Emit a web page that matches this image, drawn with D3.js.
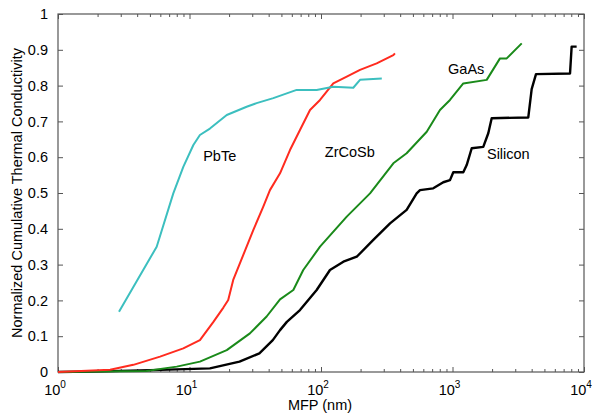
<!DOCTYPE html>
<html>
<head>
<meta charset="utf-8">
<script src="https://d3js.org/d3.v7.min.js"></script>
<style>
  body { margin: 0; background: #fff; }
  text { font-family: "Liberation Sans", Arial, Helvetica, sans-serif; fill: #000; }
</style>
</head>
<body>
<div id="chart"></div>
<script>
// data: [MFP (nm), normalized cumulative k]
var silicon = [[1,0],[1.75,0.001],[6,0.006],[14.3,0.01],[24,0.029],[34,0.052],[43,0.089],[48.8,0.117],
  [55,0.14],[69.2,0.173],[92.7,0.229],[117,0.285],[148,0.308],[187,0.322],[250,0.369],[335,0.415],
  [448,0.453],[534,0.499],[566,0.508],[714,0.513],[851,0.53],[957,0.536],[1014,0.558],[1208,0.558],
  [1282,0.578],[1400,0.625],[1714,0.629],[1871,0.667],[1986,0.709],[3770,0.711],[4000,0.79],
  [4315,0.832],[7830,0.834],[8055,0.909],[8790,0.909]];
var gaas = [[1,0],[4.7,0.003],[8,0.015],[12,0.029],[19.2,0.061],[28.8,0.108],[38.6,0.155],[48.8,0.203],
  [61.6,0.229],[73.3,0.285],[98.3,0.35],[157,0.434],[236,0.499],[355,0.583],[448,0.611],[637,0.671],
  [803,0.732],[957,0.76],[1208,0.806],[1820,0.816],[2297,0.876],[2584,0.876],[3360,0.918]];
var zrcosb = [[1,0],[2.49,0.006],[3.74,0.02],[5.97,0.043],[8.97,0.066],[12,0.089],[15.2,0.14],
  [18.1,0.18],[19.7,0.201],[21.5,0.257],[24.2,0.304],[30.6,0.397],[36.4,0.462],[40.9,0.508],[48.8,0.555],
  [58.1,0.62],[69.2,0.676],[82.5,0.732],[98.3,0.76],[124,0.806],[157,0.825],[198,0.844],
  [265,0.862],[355,0.885],[365,0.89]];
var pbte = [[2.91,0.168],[5.63,0.35],[7.53,0.499],[8.97,0.573],[10.7,0.634],[12,0.662],[14.3,0.68],
  [19.2,0.718],[27.2,0.741],[32.4,0.751],[43.4,0.765],[65.3,0.788],[92.7,0.788],[124,0.797],
  [176,0.794],[198,0.816],[290,0.82]];

var series = [
  {name: "Silicon", data: silicon, color: "#000000", width: 2.4},
  {name: "GaAs", data: gaas, color: "#1a8a1a", width: 2},
  {name: "ZrCoSb", data: zrcosb, color: "#ff2b1f", width: 2},
  {name: "PbTe", data: pbte, color: "#3cbfbf", width: 2}
];
var xMajor = [1, 10, 100, 1000, 10000];
var yTicks = [0, 0.1, 0.2, 0.3, 0.4, 0.5, 0.6, 0.7, 0.8, 0.9, 1];

var W = 594, H = 415;
var box = {left: 58, right: 584, top: 14, bottom: 372};

var svg = d3.select("#chart").append("svg").attr("width", W).attr("height", H);

var x = d3.scaleLog().domain([1, 1e4]).range([box.left, box.right]);
var y = d3.scaleLinear().domain([0, 1]).range([box.bottom, box.top]);

var xMinor = [];
xMajor.slice(0, -1).forEach(function(d) { for (var k = 2; k < 10; k++) xMinor.push(d * k); });

function styleAxis(g) {
  g.select(".domain").remove();
  g.selectAll(".tick line").attr("stroke", "#555");
}

// bottom / top axes
svg.append("g").attr("transform", "translate(0," + box.bottom + ")")
  .call(d3.axisBottom(x).tickValues(xMajor).tickSize(-5).tickFormat("")).call(styleAxis);
svg.append("g").attr("transform", "translate(0," + box.bottom + ")")
  .call(d3.axisBottom(x).tickValues(xMinor).tickSize(-3).tickFormat("")).call(styleAxis);
svg.append("g").attr("transform", "translate(0," + box.top + ")")
  .call(d3.axisTop(x).tickValues(xMajor).tickSize(-5).tickFormat("")).call(styleAxis);
svg.append("g").attr("transform", "translate(0," + box.top + ")")
  .call(d3.axisTop(x).tickValues(xMinor).tickSize(-3).tickFormat("")).call(styleAxis);

// left / right axes
var yl = svg.append("g").attr("transform", "translate(" + box.left + ",0)")
  .call(d3.axisLeft(y).tickValues(yTicks).tickSize(-5).tickPadding(10)
    .tickFormat(function(d) { return d === 0 || d === 1 ? d3.format("d")(d) : d3.format(".1f")(d); }));
yl.select(".domain").remove();
yl.selectAll(".tick line").attr("stroke", "#555");
yl.selectAll(".tick text").style("font-size", "14.5px").attr("fill", "#000");
svg.append("g").attr("transform", "translate(" + box.right + ",0)")
  .call(d3.axisRight(y).tickValues(yTicks).tickSize(-5).tickFormat("")).call(styleAxis);

// frame
svg.append("rect").attr("x", box.left).attr("y", box.top)
  .attr("width", box.right - box.left).attr("height", box.bottom - box.top)
  .attr("fill", "none").attr("stroke", "#555").attr("stroke-width", 1.2);

// x tick labels 10^n
xMajor.forEach(function(d) {
  var t = svg.append("text").attr("x", x(d) - 3).attr("y", box.bottom + 23)
    .attr("text-anchor", "middle").style("font-size", "14.5px");
  t.append("tspan").text("10");
  t.append("tspan").attr("dy", -7).style("font-size", "10px").text(Math.round(Math.log10(d)));
});

// axis titles
svg.append("text").attr("x", (box.left + box.right) / 2 - 1).attr("y", 410)
  .attr("text-anchor", "middle").style("font-size", "14.5px").text("MFP (nm)");
svg.append("text").attr("transform", "translate(22," + ((box.top + box.bottom) / 2) + ") rotate(-90)")
  .attr("text-anchor", "middle").style("font-size", "14.5px")
  .text("Normalized Cumulative Thermal Conductivity");

// curves
var line = d3.line().x(function(d) { return x(d[0]); }).y(function(d) { return y(d[1]); });
svg.selectAll("path.curve").data(series).enter().append("path")
  .attr("class", "curve")
  .attr("d", function(s) { return line(s.data); })
  .attr("fill", "none")
  .attr("stroke", function(s) { return s.color; })
  .attr("stroke-width", function(s) { return s.width; })
  .attr("stroke-linejoin", "round");

// curve labels
var labels = [
  {text: "PbTe", x: 12.7, y: 0.589},
  {text: "ZrCoSb", x: 107, y: 0.6},
  {text: "GaAs", x: 925, y: 0.832},
  {text: "Silicon", x: 1829, y: 0.595}
];
svg.selectAll("text.lab").data(labels).enter().append("text")
  .attr("class", "lab")
  .attr("x", function(d) { return x(d.x); })
  .attr("y", function(d) { return y(d.y); })
  .style("font-size", "14.5px")
  .text(function(d) { return d.text; });
</script>
</body>
</html>
